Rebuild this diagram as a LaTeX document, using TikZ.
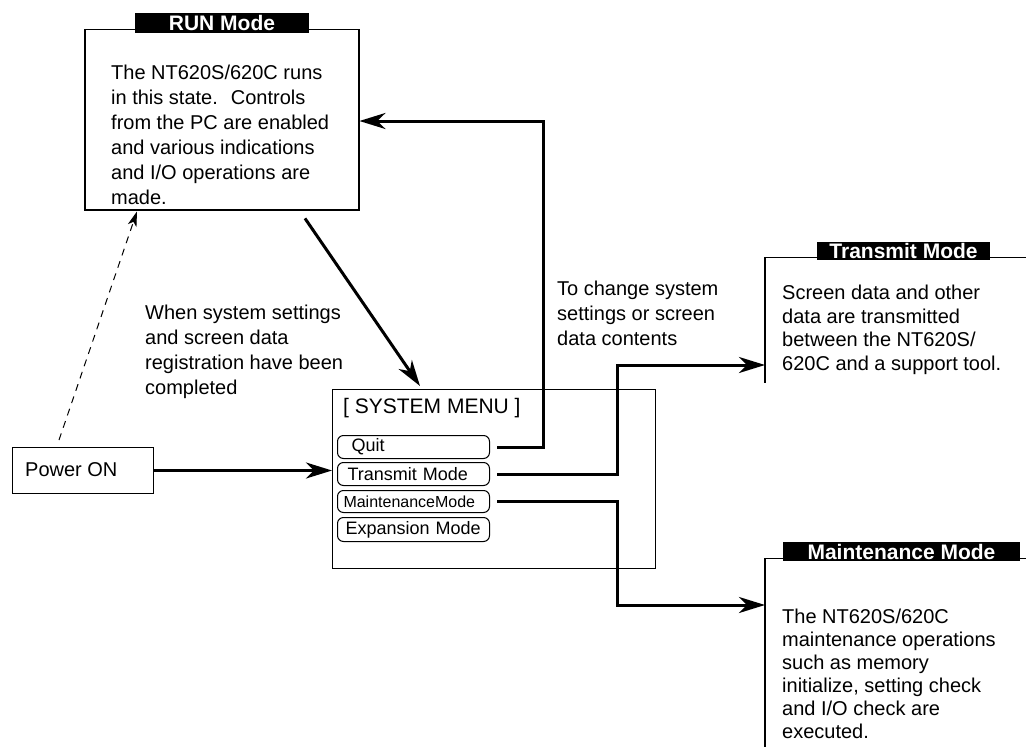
\documentclass[tikz,border=0pt]{standalone}
\usepackage{fontspec}
\setmainfont{Liberation Sans}
\usetikzlibrary{arrows.meta,calc}
\begin{document}
\begin{tikzpicture}[x=1pt,y=-1pt,
  body/.style={anchor=north west, inner sep=0pt, align=left, font=\fontsize{20}{25}\selectfont},
  bodyb/.style={anchor=north west, inner sep=0pt, align=left, font=\fontsize{20}{23.5}\selectfont},
  frame/.style={line width=2pt},
  hair/.style={line width=1pt},
  lbl/.style={fill=black, text=white, font=\bfseries\fontsize{21}{21}\selectfont, inner sep=0pt},
  area/.style={inner sep=0pt, anchor=north west},
  btn/.style={draw, line width=1pt, rounded corners=6pt, minimum width=152pt, minimum height=23pt, inner xsep=6pt, inner ysep=0pt, text width=140pt, align=left, anchor=north west, font=\fontsize{18}{18}\selectfont},
  conn/.style={line width=3pt, -{Stealth[length=26pt,width=16pt,inset=8pt]}},
  dconn/.style={line width=1pt, dash pattern=on 7pt off 6pt, -{Stealth[length=15pt,width=9pt,inset=4pt]}},
]
\useasboundingbox (0,0) rectangle (1026,747);

% RUN Mode box
\node[area, minimum width=274pt, minimum height=181pt] (run) at (85,29) {};
\draw[frame] (run.north west) -- (run.south west) -- (run.south east) -- (run.north east);
\draw[hair] (run.north west) -- (run.north east);
\node[lbl, minimum width=174pt, minimum height=20pt] (runlbl) at (222,23) {RUN Mode};
\node[body] (runtxt) at (111,65) {The NT620S/620C runs\\in this state.~ Controls\\from the PC are enabled\\and various indications\\and I/O operations are\\made.};

% Transmit Mode box
\node[area, minimum width=280pt, minimum height=126pt] (tx) at (765,257) {};
\draw[frame] (tx.north west) -- (tx.south west);
\draw[hair] (tx.north west) -- (tx.north east);
\node[lbl, minimum width=173pt, minimum height=18pt] (txlbl) at (903.5,251) {Transmit Mode};
\node[bodyb] (txtxt) at (782,285) {Screen data and other\\data are transmitted\\between the NT620S/\\620C and a support tool.};

% Maintenance Mode box
\node[area, minimum width=280pt, minimum height=200pt] (mt) at (765,558) {};
\draw[frame] (mt.north west) -- (mt.south west);
\draw[hair] (mt.north west) -- (mt.north east);
\node[lbl, minimum width=237pt, minimum height=19pt] (mtlbl) at (901.5,551.5) {Maintenance Mode};
\node[bodyb, font=\fontsize{20}{23}\selectfont] (mttxt) at (782,609) {The NT620S/620C\\maintenance operations\\such as memory\\initialize, setting check\\and I/O check are\\executed.};

% SYSTEM MENU box
\node[area, draw, line width=1pt, minimum width=323pt, minimum height=179pt] (menu) at (332,389) {};
\node[anchor=base west, inner sep=0pt, font=\fontsize{21}{21}\selectfont] (menutitle) at (343,413) {[ SYSTEM MENU ]};
\node[btn] (quit) at (337,435) {\hspace*{8pt}Quit};
\node[btn] (tbtn) at (337,462) {\hspace*{4pt}Transmit Mode};
\node[btn, minimum height=22pt, font=\fontsize{16}{16}\selectfont] (mbtn) at (337,490) {MaintenanceMode};
\node[btn, minimum height=24pt] (ebtn) at (337,517) {\hspace*{2pt}Expansion Mode};

% Power ON
\node[area, draw, line width=1pt, minimum width=141pt, minimum height=46pt] (pwr) at (12,447) {};
\node[anchor=base west, inner sep=0pt, font=\fontsize{20}{20}\selectfont] (pwrtxt) at (25,476) {Power ON};

% free texts
\node[body] (whentxt) at (145,305) {When system settings\\and screen data\\registration have been\\completed};
\node[body] (totxt) at (557,281) {To change system\\settings or screen\\data contents};

% connectors
\draw[conn] (pwr.east) -- (pwr.east -| menu.west);
\draw[dconn] ([xshift=-24pt,yshift=7pt]pwr.north) -- ($(run.south west)+(52,1)$);
\draw[conn] ($(run.south west)+(220,8)$) -- ($(menu.north west)+(88,-3)$);

\coordinate (qturn) at (543,121);
\draw[conn] ([xshift=7pt]quit.east) -| (qturn) -- (qturn -| run.east);
\coordinate (tturn) at (617,365);
\draw[conn] ([xshift=7pt]tbtn.east) -| (tturn) -- (tturn -| tx.west);
\coordinate (mturn) at (617,605);
\draw[conn] ([xshift=7pt]mbtn.east) -| (mturn) -- (mturn -| mt.west);
\end{tikzpicture}
\end{document}
